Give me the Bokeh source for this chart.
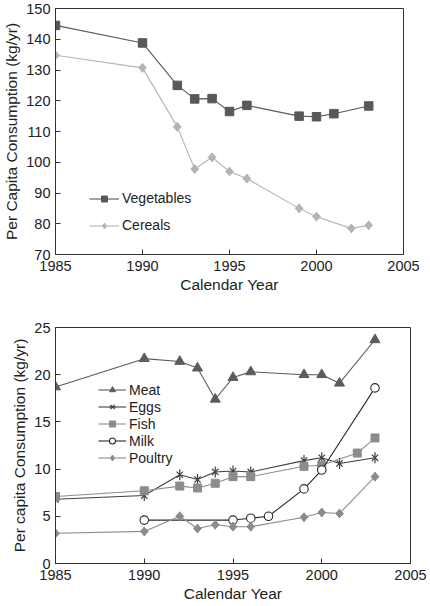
import math
from bokeh.plotting import figure
from bokeh.layouts import column
from bokeh.models import Legend, LegendItem, FixedTicker, Range1d
from bokeh.embed import file_html
from bokeh.resources import INLINE

# ---- Top chart data ----
veg_years = [1985, 1990, 1992, 1993, 1994, 1995, 1996, 1999, 2000, 2001, 2003]
veg_vals = [144.5, 138.8, 125.0, 120.6, 120.7, 116.5, 118.5, 115.0, 114.8, 115.8, 118.3]
cer_years = [1985, 1990, 1992, 1993, 1994, 1995, 1996, 1999, 2000, 2002, 2003]
cer_vals = [134.8, 130.7, 111.5, 97.8, 101.6, 97.0, 94.7, 85.0, 82.3, 78.5, 79.5]

# ---- Bottom chart data ----
meat_years = [1985, 1990, 1992, 1993, 1994, 1995, 1996, 1999, 2000, 2001, 2003]
meat_vals = [18.7, 21.7, 21.4, 20.7, 17.4, 19.7, 20.3, 20.0, 20.0, 19.1, 23.7]
eggs_years = [1985, 1990, 1992, 1993, 1994, 1995, 1996, 1999, 2000, 2001, 2003]
eggs_vals = [6.8, 7.2, 9.4, 8.9, 9.7, 9.8, 9.7, 10.9, 11.2, 10.6, 11.2]
fish_years = [1985, 1990, 1992, 1993, 1994, 1995, 1996, 1999, 2000, 2002, 2003]
fish_vals = [7.1, 7.7, 8.2, 8.0, 8.5, 9.2, 9.2, 10.3, 10.4, 11.7, 13.3]
milk_years = [1990, 1995, 1996, 1997, 1999, 2000, 2003]
milk_vals = [4.6, 4.6, 4.8, 5.0, 7.9, 9.9, 18.6]
poul_years = [1985, 1990, 1992, 1993, 1994, 1995, 1996, 1999, 2000, 2001, 2003]
poul_vals = [3.2, 3.4, 5.0, 3.7, 4.1, 3.9, 3.9, 4.9, 5.4, 5.3, 9.2]

x_ticks = [1985, 1990, 1995, 2000, 2005]
top_y_ticks = [70, 80, 90, 100, 110, 120, 130, 140, 150]
bot_y_ticks = [0, 5, 10, 15, 20, 25]

FONT = "Liberation Sans"
TXT = "#222222"
D45 = math.pi / 4


def style(p, yticks, ylabel):
    p.x_range = Range1d(1985, 2005)
    p.xaxis.ticker = FixedTicker(ticks=x_ticks)
    p.yaxis.ticker = FixedTicker(ticks=yticks)
    p.xaxis.axis_label = "Calendar Year"
    p.yaxis.axis_label = ylabel
    for ax in (p.xaxis[0], p.yaxis[0]):
        ax.major_tick_in = 5
        ax.major_tick_out = 0
        ax.minor_tick_line_color = None
        ax.axis_line_color = "#333333"
        ax.major_tick_line_color = "#333333"
        ax.major_label_text_font = FONT
        ax.major_label_text_font_size = "14.5px"
        ax.major_label_text_color = TXT
        ax.axis_label_text_font = FONT
        ax.axis_label_text_font_size = "15.5px"
        ax.axis_label_text_font_style = "normal"
        ax.axis_label_text_color = TXT
    p.xaxis.major_label_standoff = 6
    p.xaxis.axis_label_standoff = 2
    p.yaxis.major_label_standoff = 5
    p.yaxis.axis_label_standoff = 3
    p.xgrid.grid_line_color = None
    p.ygrid.grid_line_color = None
    p.outline_line_color = "#333333"
    p.outline_line_alpha = 1.0
    p.background_fill_color = "white"
    p.border_fill_color = "white"


def diamond_marks(p, xs, ys, color):
    # a near-square diamond: Bokeh's diamond marker combined with a 45-degree square
    d = p.scatter(xs, ys, marker="diamond", size=9, fill_color=color, line_color=color)
    p.scatter(xs, ys, marker="square", angle=D45, size=5.6, fill_color=color, line_color=color)
    return d


# ---- Top figure ----
p1 = figure(width=421, height=295, output_backend="svg", toolbar_location=None,
            min_border_left=55, min_border_right=18, min_border_top=8, min_border_bottom=40)
p1.y_range = Range1d(70, 150)
style(p1, top_y_ticks, "Per Capita Consumption (kg/yr)")

vc = "#585858"
cc = "#b4b4b4"
l1 = p1.line(veg_years, veg_vals, line_color=vc, line_width=1.1)
m1 = p1.scatter(veg_years, veg_vals, marker="square", size=8.5, fill_color=vc, line_color=vc)
l2 = p1.line(cer_years, cer_vals, line_color=cc, line_width=1.1)
k2 = diamond_marks(p1, cer_years, cer_vals, cc)

leg1 = Legend(items=[LegendItem(label="Vegetables", renderers=[l1, m1]),
                     LegendItem(label="Cereals", renderers=[l2, k2])],
              location=(34, 19), glyph_width=30, glyph_height=15, label_height=20, spacing=7,
              padding=0, margin=0, label_standoff=3, border_line_color=None,
              background_fill_alpha=0, label_text_font=FONT,
              label_text_font_size="14px", label_text_color=TXT)
p1.add_layout(leg1)

# ---- Bottom figure ----
p2 = figure(width=428, height=309, output_backend="svg", toolbar_location=None,
            min_border_left=54, min_border_right=16, min_border_top=32, min_border_bottom=40)
p2.y_range = Range1d(0, 25)
style(p2, bot_y_ticks, "Per capita Consumption (kg/yr)")

mc = "#5c5c5c"
ec = "#404040"
fc = "#8c8c8c"
pc = "#8c8c8c"
r = []
a = p2.line(meat_years, meat_vals, line_color=mc, line_width=1.1)
b = p2.scatter(meat_years, meat_vals, marker="triangle", size=10, fill_color=mc, line_color=mc)
r.append(("Meat", [a, b]))
a = p2.line(eggs_years, eggs_vals, line_color=ec, line_width=1.1)
b = p2.scatter(eggs_years, eggs_vals, marker="x", size=9, line_color=ec, line_width=1.2)
c = p2.scatter(eggs_years, eggs_vals, marker="dash", angle=math.pi / 2, size=11, line_color=ec, line_width=1.2)
r.append(("Eggs", [a, b, c]))
a = p2.line(fish_years, fish_vals, line_color=fc, line_width=1.1)
b = p2.scatter(fish_years, fish_vals, marker="square", size=8, fill_color=fc, line_color=fc)
r.append(("Fish", [a, b]))
a = p2.line(milk_years, milk_vals, line_color="#2a2a2a", line_width=1.1)
b = p2.scatter(milk_years, milk_vals, marker="circle", size=8.5, fill_color="white", line_color="#2a2a2a", line_width=1.1)
r.append(("Milk", [a, b]))
a = p2.line(poul_years, poul_vals, line_color=pc, line_width=1.1)
k = diamond_marks(p2, poul_years, poul_vals, pc)
r.append(("Poultry", [a, k]))

leg2 = Legend(items=[LegendItem(label=n, renderers=rr) for n, rr in r],
              location=(43, 97), glyph_width=28, glyph_height=15, label_height=17, spacing=0,
              padding=0, margin=0, label_standoff=3, border_line_color=None,
              background_fill_alpha=0, label_text_font=FONT,
              label_text_font_size="14px", label_text_color=TXT)
p2.add_layout(leg2)

layout = column(p1, p2, spacing=0, styles={"position": "absolute", "left": "0px", "top": "0px"})
open("out.html", "w").write(file_html(layout, INLINE))
